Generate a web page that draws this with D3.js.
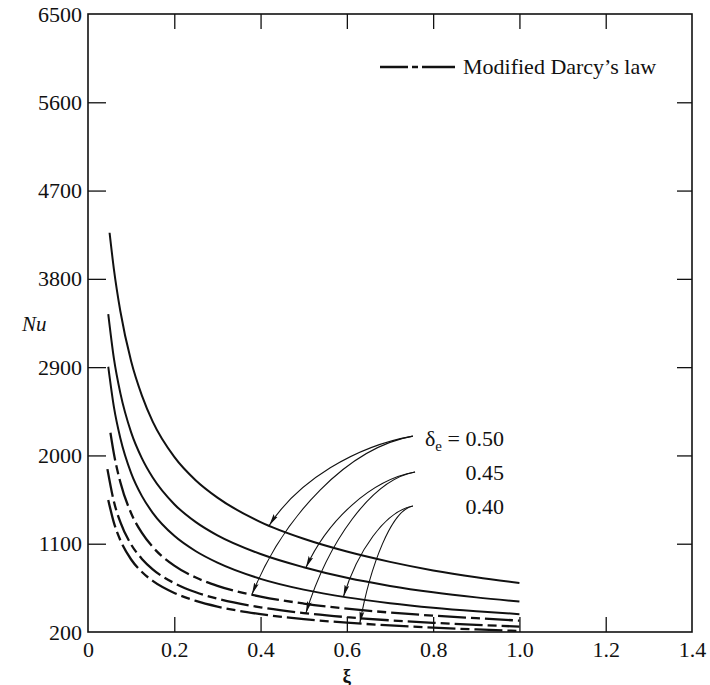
<!DOCTYPE html>
<html>
<head>
<meta charset="utf-8">
<script src="https://cdn.jsdelivr.net/npm/d3@7"></script>
<style>
  html, body { margin: 0; padding: 0; background: #fff; }
  svg { display: block; }
  text { font-family: "Liberation Serif", "DejaVu Serif", serif; fill: #111; }
</style>
</head>
<body>
<svg id="chart" width="710" height="685"></svg>
<script>
// ---------- data ----------
const xTicks = [0, 0.2, 0.4, 0.6, 0.8, 1.0, 1.2, 1.4];
const xTickLabels = ["0", "0.2", "0.4", "0.6", "0.8", "1.0", "1.2", "1.4"];
const yTicks = [200, 1100, 2000, 2900, 3800, 4700, 5600, 6500];
const yTickLabels = ["200", "1100", "2000", "2900", "3800", "4700", "5600", "6500"];

// Darcy's law (solid)
const xiS50 = [0.05, 0.06, 0.075, 0.1, 0.125, 0.15, 0.2, 0.25, 0.3, 0.4, 0.5, 0.6, 0.7, 0.8, 0.9, 1.0];
const nuS50 = [4270, 3900, 3470, 2960, 2610, 2345, 1985, 1745, 1570, 1320, 1150, 1020, 915, 828, 758, 700];
const xiS45 = [0.047, 0.06, 0.075, 0.1, 0.125, 0.15, 0.2, 0.25, 0.3, 0.4, 0.5, 0.6, 0.7, 0.8, 0.9, 1.0];
const nuS45 = [3440, 2990, 2635, 2235, 1970, 1775, 1503, 1320, 1185, 995, 860, 752, 670, 605, 553, 510];
const xiS40 = [0.047, 0.06, 0.075, 0.1, 0.125, 0.15, 0.2, 0.25, 0.3, 0.4, 0.5, 0.6, 0.7, 0.8, 0.9, 1.0];
const nuS40 = [2904, 2495, 2175, 1820, 1585, 1415, 1180, 1023, 907, 742, 632, 553, 494, 448, 412, 382];

// Modified Darcy's law (dashed)
const xiD50 = [0.052, 0.06, 0.075, 0.1, 0.125, 0.15, 0.2, 0.25, 0.3, 0.4, 0.5, 0.6, 0.7, 0.8, 0.9, 1.0];
const nuD50 = [2231, 2018, 1726, 1411, 1210, 1067, 877, 755, 671, 561, 490, 438, 398, 367, 341, 316];
const xiD45 = [0.045, 0.06, 0.075, 0.1, 0.125, 0.15, 0.2, 0.25, 0.3, 0.4, 0.5, 0.6, 0.7, 0.8, 0.9, 1.0];
const nuD45 = [1860, 1530, 1320, 1092, 945, 839, 698, 605, 539, 451, 393, 351, 319, 294, 273, 255];
const xiD40 = [0.047, 0.06, 0.075, 0.1, 0.125, 0.15, 0.2, 0.25, 0.3, 0.4, 0.5, 0.6, 0.7, 0.8, 0.9, 1.0];
const nuD40 = [1545, 1315, 1135, 939, 812, 721, 598, 517, 459, 382, 331, 295, 267, 244, 226, 210];

// annotation labels (data coords) and arrows: start point, target series, target xi
const labelValues = ["0.50", "0.45", "0.40"];
const labelXi = [0.964, 0.964, 0.964];
const labelNu = [2096, 1749, 1402];
const arrowStartXi = [0.753, 0.758, 0.753];
const arrowStartNu = [2197, 1831, 1484];
const arrowSolidXi = [0.42, 0.505, 0.592];
const arrowDashedXi = [0.38, 0.505, 0.63];

const legendLabel = "Modified Darcy\u2019s law";

// ---------- chart ----------
const svg = d3.select("#chart");
const x = d3.scaleLinear().domain([0, 1.4]).range([88, 692]);
const y = d3.scaleLinear().domain([200, 6500]).range([632, 14]);

const solid = [
  {xi: xiS50, nu: nuS50}, {xi: xiS45, nu: nuS45}, {xi: xiS40, nu: nuS40}
];
const dashed = [
  {xi: xiD50, nu: nuD50}, {xi: xiD45, nu: nuD45}, {xi: xiD40, nu: nuD40}
];
const toPts = s => s.xi.map((v, i) => [v, s.nu[i]]);
const interp = (s, xv) => {
  for (let i = 0; i < s.xi.length - 1; i++) {
    if (xv >= s.xi[i] && xv <= s.xi[i + 1]) {
      const t = (xv - s.xi[i]) / (s.xi[i + 1] - s.xi[i]);
      return s.nu[i] + t * (s.nu[i + 1] - s.nu[i]);
    }
  }
  return s.nu[s.nu.length - 1];
};

// frame
svg.append("rect")
  .attr("x", x(0)).attr("y", y(6500))
  .attr("width", x(1.4) - x(0)).attr("height", y(200) - y(6500))
  .attr("fill", "none").attr("stroke", "#111").attr("stroke-width", 1.6);

const fmtX = d => xTickLabels[xTicks.indexOf(d)];
const fmtY = d => yTickLabels[yTicks.indexOf(d)];
const inner = xTicks.slice(1, -1);
const innerY = yTicks.slice(1, -1);

const gB = svg.append("g").attr("transform", `translate(0,${y(200)})`)
  .call(d3.axisBottom(x).tickValues(xTicks).tickFormat(fmtX).tickSizeInner(-15).tickSizeOuter(0).tickPadding(9));
gB.selectAll(".tick line").filter(d => d === 0 || d === 1.4).remove();

const gL = svg.append("g").attr("transform", `translate(${x(0)},0)`)
  .call(d3.axisLeft(y).tickValues(yTicks).tickFormat(fmtY).tickSizeInner(-18).tickSizeOuter(0).tickPadding(6));
gL.selectAll(".tick line").filter(d => d === 200 || d === 6500).remove();

const gT = svg.append("g").attr("transform", `translate(0,${y(6500)})`)
  .call(d3.axisTop(x).tickValues(inner).tickFormat("").tickSizeInner(-15).tickSizeOuter(0));
const gR = svg.append("g").attr("transform", `translate(${x(1.4)},0)`)
  .call(d3.axisRight(y).tickValues(innerY).tickFormat("").tickSizeInner(-15).tickSizeOuter(0));

[gB, gL, gT, gR].forEach(g => {
  g.select(".domain").remove();
  g.selectAll(".tick line").attr("stroke", "#111").attr("stroke-width", 1.3);
  g.selectAll("text").attr("font-size", 22).attr("font-family", "Liberation Serif").attr("fill", "#111");
});

// curves
const line = d3.line().x(d => x(d[0])).y(d => y(d[1])).curve(d3.curveMonotoneX);
svg.append("g").selectAll("path").data(solid).join("path")
  .attr("d", s => line(toPts(s)))
  .attr("fill", "none").attr("stroke", "#111").attr("stroke-width", 2);
svg.append("g").selectAll("path").data(dashed).join("path")
  .attr("d", s => line(toPts(s)))
  .attr("fill", "none").attr("stroke", "#111").attr("stroke-width", 2.3)
  .attr("stroke-dasharray", "28,5,9,5");

// arrow marker
svg.append("defs").append("marker")
  .attr("id", "ah").attr("viewBox", "0 0 12 6").attr("refX", 12).attr("refY", 3)
  .attr("markerWidth", 12).attr("markerHeight", 6).attr("markerUnits", "userSpaceOnUse")
  .attr("orient", "auto")
  .append("path").attr("d", "M0,0.6 L12,3 L0,5.4 L2,3 Z").attr("fill", "#111");

const arrowPath = (sx, sy, ex, ey) => {
  const dx = sx - ex, dy = ey - sy;
  const p = d3.path();
  p.moveTo(sx, sy);
  p.bezierCurveTo(sx - 0.4 * dx, sy + 0.07 * dx, ex + 0.2 * dx, ey - 0.5 * dy, ex, ey);
  return p.toString();
};
const ag = svg.append("g");
labelValues.forEach((lab, i) => {
  const sx = x(arrowStartXi[i]), sy = y(arrowStartNu[i]);
  const targets = [
    [arrowSolidXi[i], interp(solid[i], arrowSolidXi[i])],
    [arrowDashedXi[i], interp(dashed[i], arrowDashedXi[i])]
  ];
  targets.forEach(t => {
    ag.append("path").attr("d", arrowPath(sx, sy, x(t[0]), y(t[1])))
      .attr("fill", "none").attr("stroke", "#111").attr("stroke-width", 1.1)
      .attr("marker-end", "url(#ah)");
  });
  const tx = svg.append("text").attr("x", x(labelXi[i])).attr("y", y(labelNu[i]))
    .attr("text-anchor", "end").attr("font-size", 22);
  if (i === 0) {
    tx.append("tspan").text("\u03b4");
    tx.append("tspan").attr("font-size", 15).attr("dy", 5).text("e");
    tx.append("tspan").attr("dy", -5).text(" = " + lab);
  } else {
    tx.text(lab);
  }
});

// legend
svg.append("path").attr("d", "M380,67 L455,67")
  .attr("stroke", "#111").attr("stroke-width", 2.3).attr("fill", "none")
  .attr("stroke-dasharray", "28,4,6,4,33");
svg.append("text").attr("x", 463).attr("y", 74).attr("font-size", 22).text(legendLabel);

// axis titles
svg.append("text").attr("x", 22).attr("y", 331).attr("font-size", 21)
  .attr("font-style", "italic").text("Nu");
svg.append("text").attr("x", x(0.6)).attr("y", 682).attr("text-anchor", "middle")
  .attr("font-size", 19).attr("font-weight", "bold").text("\u03be");
</script>
</body>
</html>
